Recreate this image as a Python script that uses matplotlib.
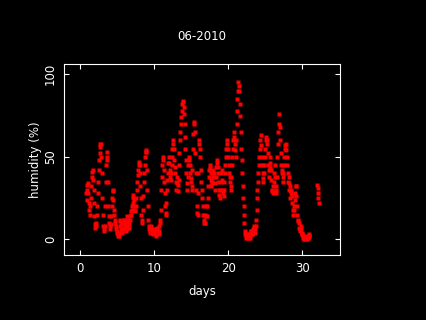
import numpy as np
import matplotlib
matplotlib.use("Agg")
import matplotlib.pyplot as plt

# humidity readings every 1.5 hours, starting at day 0.875
start_day = 0.875
step_day = 1.5 / 24
humidity = [
    28, 24,
    30, 33, 34, 28, 22, 18, 15, 20, 25, 32, 38, 41, 42, 36, 30, 22,   # day 1
    14, 9, 7, 8, 10, 15, 20, 28, 35, 42, 48, 52, 56, 58, 58, 50,      # day 2
    40, 25, 15, 8, 6, 5, 8, 20, 35, 45, 53, 50, 48, 35, 20, 14,       # day 3
    10, 8, 6, 9, 14, 20, 25, 29, 30, 24, 18, 15, 12, 10, 8, 6,        # day 4
    5, 4, 3, 2, 2, 4, 8, 11, 12, 9, 6, 5, 4, 7, 10, 12,               # day 5
    12, 10, 8, 6, 5, 9, 14, 12, 10, 8, 7, 9, 12, 14, 15, 17,          # day 6
    18, 20, 22, 25, 27, 24, 20, 18, 17, 20, 25, 30, 35, 39, 42, 45,   # day 7
    47, 45, 40, 32, 25, 15, 10, 12, 18, 26, 35, 40, 45, 50, 53, 54,   # day 8
    53, 42, 30, 20, 12, 8, 6, 5, 4, 6, 8, 6, 5, 4, 3, 4,              # day 9
    6, 5, 4, 3, 2, 4, 7, 6, 5, 4, 3, 5, 8, 12, 10, 18,                # day 10
    30, 38, 45, 48, 50, 42, 35, 28, 20, 16, 15, 22, 30, 36, 40, 46,   # day 11
    50, 46, 42, 38, 36, 40, 45, 50, 55, 58, 60, 55, 48, 44, 40, 35,   # day 12
    30, 34, 38, 33, 29, 36, 45, 52, 60, 65, 70, 74, 78, 82, 84, 83,   # day 13
    80, 76, 70, 62, 55, 48, 40, 34, 30, 38, 45, 48, 50, 45, 40, 37,   # day 14
    35, 32, 30, 42, 55, 64, 71, 70, 65, 52, 40, 30, 20, 16, 15, 28,   # day 15
    40, 58, 60, 55, 50, 42, 35, 30, 25, 20, 15, 12, 10, 10, 10, 15,   # day 16
    20, 14, 14, 20, 25, 32, 38, 42, 45, 43, 40, 36, 32, 34, 35, 38,   # day 17
    42, 40, 38, 34, 30, 38, 44, 46, 48, 44, 40, 35, 30, 27, 25, 30,   # day 18
    35, 40, 42, 36, 30, 28, 26, 30, 35, 40, 45, 50, 55, 58, 60, 55,   # day 19
    50, 45, 40, 38, 35, 32, 30, 38, 45, 50, 55, 60, 65, 62, 58, 54,   # day 20
    50, 60, 70, 78, 85, 90, 95, 93, 90, 82, 75, 65, 55, 48, 40, 32,   # day 21
    25, 20, 15, 10, 5, 3, 2, 1, 1, 2, 3, 2, 2, 1, 1, 3,               # day 22
    4, 5, 5, 3, 3, 5, 6, 7, 8, 6, 4, 8, 12, 18, 25, 30,               # day 23
    35, 40, 45, 50, 55, 60, 63, 57, 50, 45, 40, 37, 35, 40, 45, 50,   # day 24
    55, 60, 62, 60, 58, 52, 45, 42, 38, 44, 50, 46, 42, 36, 30, 29,   # day 25
    28, 32, 35, 40, 45, 38, 32, 30, 28, 38, 50, 58, 65, 70, 76, 68,   # day 26
    60, 52, 45, 42, 40, 38, 35, 40, 45, 50, 55, 57, 58, 54, 50, 45,   # day 27
    40, 35, 30, 34, 38, 32, 25, 28, 30, 26, 22, 18, 15, 18, 20, 24,   # day 28
    28, 32, 32, 26, 20, 15, 12, 11, 10, 7, 5, 6, 8, 6, 4, 3,          # day 29
    3, 2, 1, 0, 0, 1, 2, 1, 1, 0, 0, 1, 1, 2, 2, 3,                   # day 30
]
# short last block after a gap
tail_days = [32.0, 32.05, 32.1, 32.15, 32.2]
tail_humidity = [33, 31, 28, 25, 22]

days = start_day + step_day * np.arange(len(humidity))

fig = plt.figure(figsize=(4.26, 3.2), dpi=100, facecolor="black")
ax = fig.add_axes([64 / 426, 65 / 320, 276 / 426, 191 / 320], facecolor="black")

for xs, ys in [(days, humidity), (tail_days, tail_humidity)]:
    ax.plot(xs, ys, linestyle="none", marker="s", ms=2.3,
            mec="none", mfc="#ff0000", antialiased=False)

ax.set_xlim(-2.1, 35.05)
ax.set_ylim(-9.5, 106.2)
ax.set_xticks([0, 10, 20, 30])
ax.set_yticks([0, 50, 100])

for s in ax.spines.values():
    s.set_color("white")
    s.set_linewidth(0.8)
ax.tick_params(direction="in", length=3.6, width=0.8, colors="white",
               labelsize=8.5, top=True, right=True, pad=5)
for lbl in ax.get_yticklabels():
    lbl.set_rotation(90)
    lbl.set_va("center")

fig.text(202 / 426, 1 - 36 / 320, "06-2010", color="white", fontsize=8.5,
         ha="center", va="center")
fig.text(202 / 426, 1 - 291 / 320, "days", color="white", fontsize=8.5,
         ha="center", va="center")
fig.text(35 / 426, 1 - 160 / 320, "humidity (%)", color="white", fontsize=8.5,
         ha="center", va="center", rotation=90)

plt.savefig("out.png", dpi=100, facecolor="black")
